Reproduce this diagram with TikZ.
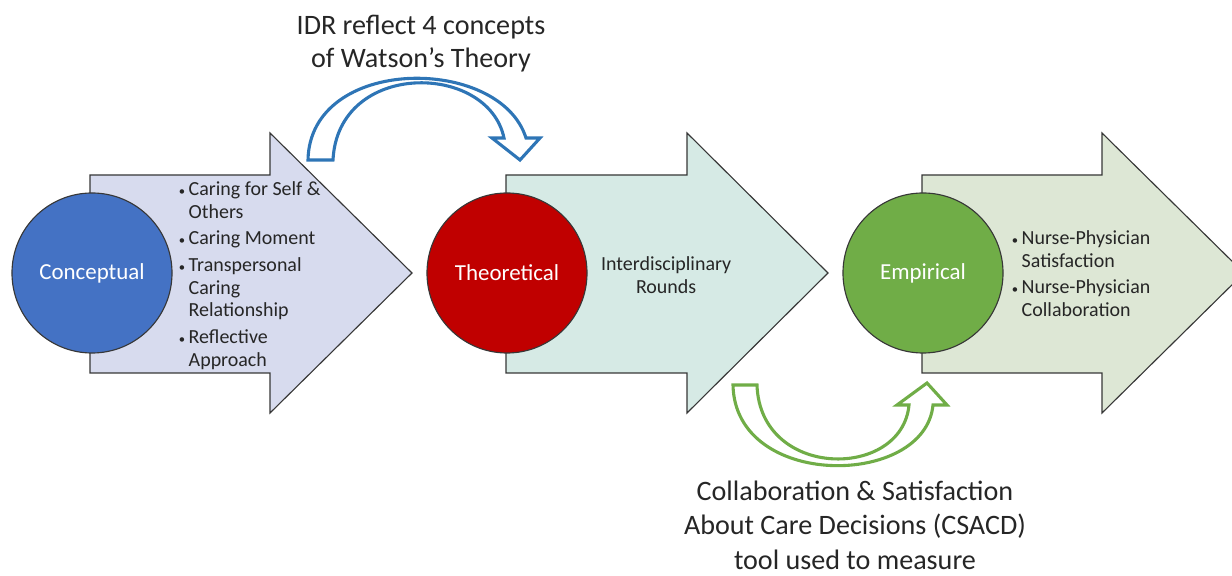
\documentclass[tikz,border=0pt]{standalone}
\usepackage{fontspec}
\setmainfont{Carlito}
\usepackage{xcolor}
\usepackage{tikz}
\usetikzlibrary{positioning}
\definecolor{conceptblue}{RGB}{68, 114, 196}
\definecolor{theoryred}{RGB}{192, 0, 0}
\definecolor{empiricgreen}{RGB}{112, 173, 71}
\definecolor{lavender}{RGB}{215, 219, 238}
\definecolor{lightteal}{RGB}{214, 234, 229}
\definecolor{lightsage}{RGB}{221, 231, 213}
\definecolor{curveblue}{RGB}{46, 117, 182}
\definecolor{textgray}{RGB}{38, 38, 38}
\definecolor{edgegray}{RGB}{55, 55, 55}
\newcommand{\bul}{\makebox[7pt][l]{\fontsize{9}{9}\selectfont\textbullet}}

\begin{document}
\begin{tikzpicture}[x=0.025cm, y=-0.025cm,
        bigarrow/.style={draw=edgegray, line width=0.8pt, line join=miter},
        phase/.style={circle, draw=edgegray, line width=0.8pt, minimum size=4cm, text=white, font=\fontsize{16.3}{19}\selectfont},
        bullets/.style={text=textgray, font=\fontsize{14.2}{16.3}\selectfont, align=left, inner sep=0pt},
        caption/.style={text=textgray, align=center},
        bendarrow/.style={fill=white, line width=2.2pt, line join=miter}]
        \useasboundingbox (0,0) rectangle (1232,576);

        % the three big arrows
        \draw[bigarrow, fill=lavender, shift={(90,0)}] (0,175) -- (180,175) -- (180,133) -- (322,273) -- (180,413) -- (180,373) -- (0,373) -- cycle;
        \draw[bigarrow, fill=lightteal, shift={(506,0)}] (0,175) -- (181,175) -- (181,133) -- (322,273) -- (181,413) -- (181,373) -- (0,373) -- cycle;
        \draw[bigarrow, fill=lightsage, shift={(922,0)}] (0,175) -- (180,175) -- (180,133) -- (322,273) -- (180,413) -- (180,373) -- (0,373) -- cycle;

        % circles
        \node[phase, fill=conceptblue] (conceptual) at (92,273) {Conceptual};
        \node[phase, fill=theoryred] (theoretical) at (507,273) {Theoretical};
        \node[phase, fill=empiricgreen] (empirical) at (923,273) {Empirical};

        % texts in the arrows
        \node[bullets, right=0.15cm of conceptual, yshift=-0.08cm] (conceptlist) {%
            \begin{tabular}{@{}l@{}l@{}}
            \bul & Caring for Self \&\\
                 & Others\\[2.5pt]
            \bul & Caring Moment\\[2.5pt]
            \bul & Transpersonal\\
                 & Caring\\
                 & Relationship\\[2.5pt]
            \bul & Reflective\\
                 & Approach
            \end{tabular}};
        \node[bullets, align=center, right=0.33cm of theoretical, yshift=-0.05cm] (theorytext) {Interdisciplinary\\Rounds};
        \node[bullets, right=0.2cm of empirical, yshift=-0.08cm] (empiriclist) {%
            \begin{tabular}{@{}l@{}l@{}}
            \bul & Nurse-Physician\\
                 & Satisfaction\\[2pt]
            \bul & Nurse-Physician\\
                 & Collaboration
            \end{tabular}};

        % curved arrows
        \draw[bendarrow, draw=curveblue] (308,160) .. controls (310,55) and (500,55) .. (526,138) -- (540,138) -- (520,160) -- (492,138) -- (504,138) .. controls (488,62) and (338,60) .. (333,160) -- cycle;
        \draw[bendarrow, draw=empiricgreen] (733,385) .. controls (735,490) and (925,488) .. (933,405) -- (947,405) -- (927,383) -- (897,405) -- (909,405) .. controls (902,480) and (760,480) .. (757,385) -- cycle;

        % captions
        \node[caption, font=\fontsize{20}{23.5}\selectfont] (idrnote) at (421,44) {IDR reflect 4 concepts\\of Watson’s Theory};
        \node[caption, font=\fontsize{20}{24.5}\selectfont] (csacdnote) at (855,525) {Collaboration \& Satisfaction\\About Care Decisions (CSACD)\\tool used to measure};
    \end{tikzpicture}
\end{document}
